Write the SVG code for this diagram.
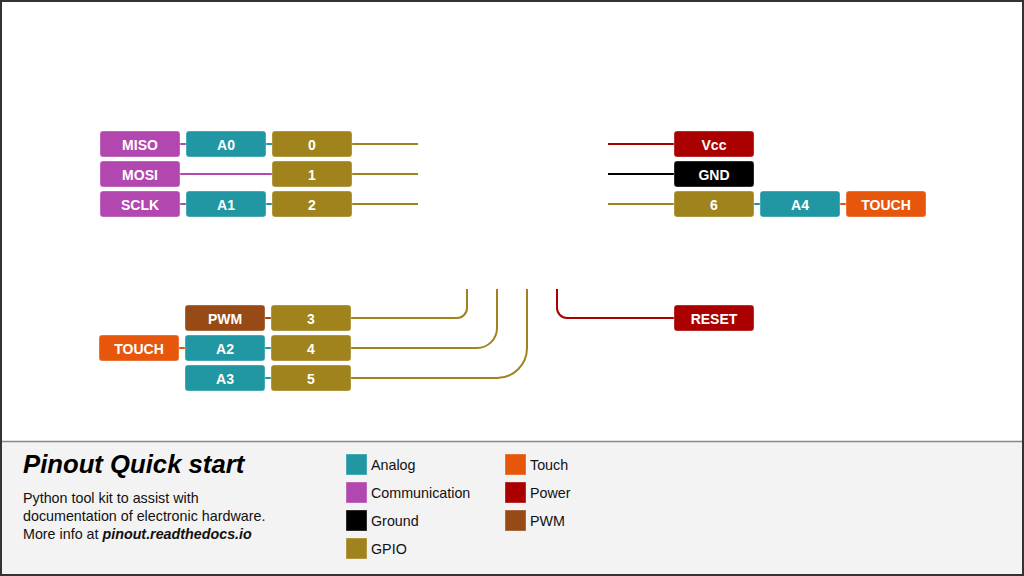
<svg xmlns="http://www.w3.org/2000/svg" width="1024" height="576" viewBox="0 0 1024 576">
<style>
.b{stroke:#fff;stroke-opacity:0.35;stroke-width:1}
.t{font-family:"Liberation Sans",Arial,sans-serif;font-weight:bold;font-size:14px;fill:#fff;text-anchor:middle}
.c{fill:none;stroke-width:2}
.an{fill:#2197a3}.co{fill:#b347b0}.gp{fill:#a0831c}.to{fill:#e6570b}.pw{fill:#aa0000}.pm{fill:#974a16}.gn{fill:#000}
.l{font-family:"Liberation Sans",Arial,sans-serif;font-size:14.3px;fill:#111}
</style>
<rect x="1" y="1" width="1022" height="574" fill="#fff" stroke="#333" stroke-width="2"/>
<rect x="2" y="441" width="1020" height="133" fill="#f3f3f3"/>
<line x1="2" y1="441.5" x2="1022" y2="441.5" stroke="#888" stroke-width="1.5"/>
<g id="connectors">
<line class="c" x1="180" y1="144" x2="186" y2="144" stroke="#b347b0"/>
<line class="c" x1="266" y1="144" x2="272" y2="144" stroke="#2197a3"/>
<line class="c" x1="352" y1="144" x2="418" y2="144" stroke="#a0831c"/>
<line class="c" x1="180" y1="174" x2="272" y2="174" stroke="#b347b0"/>
<line class="c" x1="352" y1="174" x2="418" y2="174" stroke="#a0831c"/>
<line class="c" x1="180" y1="204" x2="186" y2="204" stroke="#b347b0"/>
<line class="c" x1="266" y1="204" x2="272" y2="204" stroke="#2197a3"/>
<line class="c" x1="352" y1="204" x2="418" y2="204" stroke="#a0831c"/>
<line class="c" x1="608" y1="144" x2="674" y2="144" stroke="#aa0000"/>
<line class="c" x1="608" y1="174" x2="674" y2="174" stroke="#000"/>
<line class="c" x1="608" y1="204" x2="674" y2="204" stroke="#a0831c"/>
<line class="c" x1="754" y1="204" x2="760" y2="204" stroke="#2197a3"/>
<line class="c" x1="840" y1="204" x2="846" y2="204" stroke="#e6570b"/>
<line class="c" x1="265" y1="318" x2="271" y2="318" stroke="#974a16"/>
<line class="c" x1="179" y1="348" x2="185" y2="348" stroke="#e6570b"/>
<line class="c" x1="265" y1="348" x2="271" y2="348" stroke="#2197a3"/>
<line class="c" x1="265" y1="378" x2="271" y2="378" stroke="#2197a3"/>
<path class="c" d="M351 318 H457 A10 10 0 0 0 467 308 V289" stroke="#a0831c"/>
<path class="c" d="M351 348 H477 A20 20 0 0 0 497 328 V289" stroke="#a0831c"/>
<path class="c" d="M351 378 H497 A30 30 0 0 0 527 348 V289" stroke="#a0831c"/>
<path class="c" d="M557 289 V308 A10 10 0 0 0 567 318 H674" stroke="#aa0000"/>
</g>
<g id="miso"><rect class="b co" x="100" y="131" width="80" height="26" rx="3"/><text class="t" x="140" y="150">MISO</text></g>
<g id="a0"><rect class="b an" x="186" y="131" width="80" height="26" rx="3"/><text class="t" x="226" y="150">A0</text></g>
<g id="p0"><rect class="b gp" x="272" y="131" width="80" height="26" rx="3"/><text class="t" x="312" y="150">0</text></g>
<g id="mosi"><rect class="b co" x="100" y="161" width="80" height="26" rx="3"/><text class="t" x="140" y="180">MOSI</text></g>
<g id="p1"><rect class="b gp" x="272" y="161" width="80" height="26" rx="3"/><text class="t" x="312" y="180">1</text></g>
<g id="sclk"><rect class="b co" x="100" y="191" width="80" height="26" rx="3"/><text class="t" x="140" y="210">SCLK</text></g>
<g id="a1"><rect class="b an" x="186" y="191" width="80" height="26" rx="3"/><text class="t" x="226" y="210">A1</text></g>
<g id="p2"><rect class="b gp" x="272" y="191" width="80" height="26" rx="3"/><text class="t" x="312" y="210">2</text></g>
<g id="vcc"><rect class="b pw" x="674" y="131" width="80" height="26" rx="3"/><text class="t" x="714" y="150">Vcc</text></g>
<g id="gnd"><rect class="b gn" x="674" y="161" width="80" height="26" rx="3"/><text class="t" x="714" y="180">GND</text></g>
<g id="p6"><rect class="b gp" x="674" y="191" width="80" height="26" rx="3"/><text class="t" x="714" y="210">6</text></g>
<g id="a4"><rect class="b an" x="760" y="191" width="80" height="26" rx="3"/><text class="t" x="800" y="210">A4</text></g>
<g id="touch1"><rect class="b to" x="846" y="191" width="80" height="26" rx="3"/><text class="t" x="886" y="210">TOUCH</text></g>
<g id="pwm"><rect class="b pm" x="185" y="305" width="80" height="26" rx="3"/><text class="t" x="225" y="324">PWM</text></g>
<g id="p3"><rect class="b gp" x="271" y="305" width="80" height="26" rx="3"/><text class="t" x="311" y="324">3</text></g>
<g id="touch2"><rect class="b to" x="99" y="335" width="80" height="26" rx="3"/><text class="t" x="139" y="354">TOUCH</text></g>
<g id="a2"><rect class="b an" x="185" y="335" width="80" height="26" rx="3"/><text class="t" x="225" y="354">A2</text></g>
<g id="p4"><rect class="b gp" x="271" y="335" width="80" height="26" rx="3"/><text class="t" x="311" y="354">4</text></g>
<g id="a3"><rect class="b an" x="185" y="365" width="80" height="26" rx="3"/><text class="t" x="225" y="384">A3</text></g>
<g id="p5"><rect class="b gp" x="271" y="365" width="80" height="26" rx="3"/><text class="t" x="311" y="384">5</text></g>
<g id="reset"><rect class="b pw" x="674" y="305" width="80" height="26" rx="3"/><text class="t" x="714" y="324">RESET</text></g>
<g id="footer">
<text x="23" y="473" font-family="'Liberation Sans',Arial,sans-serif" font-size="25.7" font-weight="bold" font-style="italic" fill="#000">Pinout Quick start</text>
<text class="l" x="23" y="503">Python tool kit to assist with</text>
<text class="l" x="23" y="521">documentation of electronic hardware.</text>
<text class="l" x="23" y="539">More info at <tspan font-weight="bold" font-style="italic">pinout.readthedocs.io</tspan></text>
</g>
<g id="legend">
<rect class="b an" x="346" y="454" width="21" height="21"/><text class="l" x="371" y="470">Analog</text>
<rect class="b co" x="346" y="482" width="21" height="21"/><text class="l" x="371" y="498">Communication</text>
<rect class="b gn" x="346" y="510" width="21" height="21"/><text class="l" x="371" y="526">Ground</text>
<rect class="b gp" x="346" y="538" width="21" height="21"/><text class="l" x="371" y="554">GPIO</text>
<rect class="b to" x="505" y="454" width="21" height="21"/><text class="l" x="530" y="470">Touch</text>
<rect class="b pw" x="505" y="482" width="21" height="21"/><text class="l" x="530" y="498">Power</text>
<rect class="b pm" x="505" y="510" width="21" height="21"/><text class="l" x="530" y="526">PWM</text>
</g>
</svg>
